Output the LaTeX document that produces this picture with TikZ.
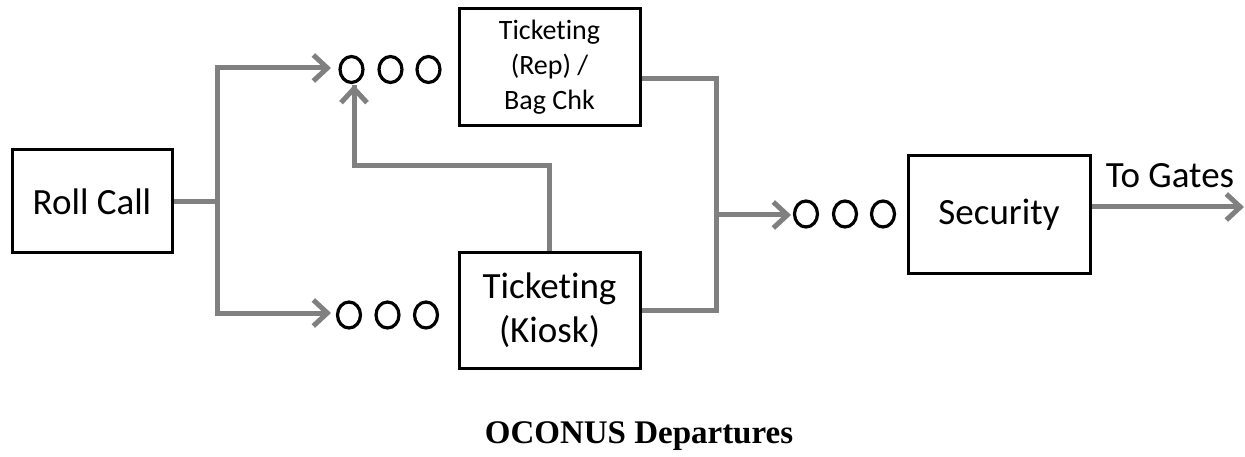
\documentclass[tikz,border=0pt]{standalone}
\usepackage{fontspec}
\setmainfont[RawFeature={-liga,-calt,-clig}]{Carlito}
\newfontfamily\titlefont{Liberation Serif}
\usetikzlibrary{arrows.meta,shapes.geometric,calc}
\definecolor{flowgray}{HTML}{808080}
\newcommand{\tkt}{Ticket\kern0pt ing}
\tikzset{
  procbox/.style={draw=black, line width=3pt, inner sep=0pt, align=center},
  qcirc/.style={draw=black, ellipse, line width=3.2pt, minimum width=23pt, minimum height=26pt, inner sep=0pt},
  flow/.style={draw=flowgray, line width=5pt},
  flowarrow/.style={flow, -{Straight Barb[length=14pt,width=26pt]}},
  bigtext/.style={font=\fontsize{37}{44}\selectfont},
  smalltext/.style={font=\fontsize{28}{35}\selectfont},
}
\begin{document}
\begin{tikzpicture}[x=1pt,y=-1pt]
\useasboundingbox (0,0) rectangle (1245,457);
% boxes
\node[procbox, bigtext, minimum width=160pt, minimum height=103pt] (rc) at (92,201.5) {Roll Call};
\node[procbox, smalltext, minimum width=181pt, minimum height=117pt] (rep) at (549.5,67.5) {\tkt\\(Rep) /\\Bag Chk};
\node[procbox, bigtext, minimum width=181pt, minimum height=115pt] (kiosk) at (549.5,310.5) {\tkt\\(Kiosk)};
\node[procbox, bigtext, minimum width=182pt, minimum height=117pt] (sec) at (999,214.5) {Security};
% queues
\node[qcirc] (qa1) at (351.5,69.5) {};
\node[qcirc] (qa2) at (390.5,69.5) {};
\node[qcirc] (qa3) at (428.5,69.5) {};
\node[qcirc] (qb1) at (349,315) {};
\node[qcirc] (qb2) at (387.5,315) {};
\node[qcirc] (qb3) at (426,315) {};
\node[qcirc] (qc1) at (806,214) {};
\node[qcirc] (qc2) at (845,214) {};
\node[qcirc] (qc3) at (883,214) {};
% labels
\node[bigtext] (gates) at (1170,176) {To Gates};
\node[font=\titlefont\bfseries\fontsize{33}{38}\selectfont] (title) at (639,436) {OCONUS Departures};
% junction coordinates
\coordinate (j1) at (217,202);
\coordinate (j1t) at (217,68);
\coordinate (j1b) at (217,313);
\coordinate (ta) at (331,68);
\coordinate (tb) at (331,313);
\coordinate (up1) at (549,166);
\coordinate (up2) at (354,166);
\coordinate (up3) at (354,85);
\coordinate (m1) at (716,79);
\coordinate (m2) at (716,310);
\coordinate (mj) at (716,215);
\coordinate (tc) at (791,215);
\coordinate (tg) at (1244,207);
% connectors
\draw[flow] (rc.east |- j1) -- (j1);
\draw[flow, line cap=rect] (j1t) -- (j1b);
\draw[flowarrow] (j1t) -- (ta);
\draw[flowarrow] (j1b) -- (tb);
\draw[flow] (kiosk.north -| up1) -- (up1) -- (up2) -- (up3);
\draw[flowarrow] (up2) -- (up3);
\draw[flow] (rep.east |- m1) -- (m1) -- (m2) -- (kiosk.east |- m2);
\draw[flowarrow] (mj) -- (tc);
\draw[flowarrow] (sec.east |- tg) -- (tg);
\end{tikzpicture}
\end{document}
